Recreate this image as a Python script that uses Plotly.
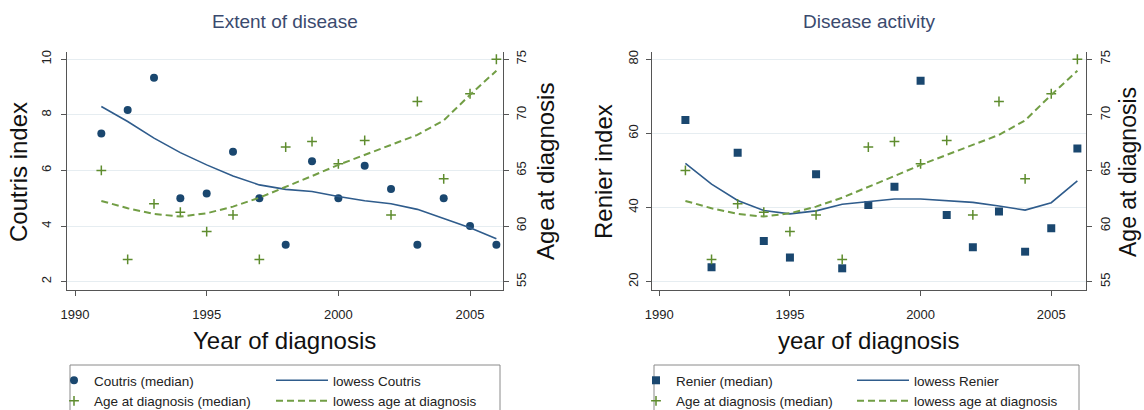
import plotly.graph_objects as go

W, H = 1144, 410

years = [1991, 1992, 1993, 1994, 1995, 1996, 1997, 1998, 1999, 2000, 2001, 2002, 2003, 2004, 2005, 2006]
coutris_median = [7.33, 8.17, 9.33, 5.0, 5.17, 6.67, 5.0, 3.33, 6.33, 5.0, 6.17, 5.33, 3.33, 5.0, 4.0, 3.33]
lowess_coutris = [8.30, 7.76, 7.16, 6.64, 6.20, 5.80, 5.48, 5.32, 5.24, 5.06, 4.91, 4.80, 4.60, 4.28, 3.94, 3.54]
age_median = [65, 57, 62, 61.25, 59.5, 61, 57, 67.1, 67.6, 65.6, 67.7, 61, 71.2, 64.25, 71.9, 75]
lowess_age = [62.26, 61.6, 61.09, 60.85, 61.15, 61.75, 62.55, 63.5, 64.5, 65.5, 66.4, 67.3, 68.2, 69.5, 71.8, 73.97]
renier_median = [63.6, 23.9, 54.8, 31.0, 26.5, 49.0, 23.6, 40.7, 45.6, 74.2, 38.0, 29.3, 38.9, 28.1, 34.4, 55.9]
lowess_renier = [51.9, 46.3, 41.9, 39.2, 38.3, 39.1, 40.9, 41.6, 42.3, 42.3, 41.8, 41.4, 40.4, 39.3, 41.3, 47.2]

x_ticks = [1990, 1995, 2000, 2005]
coutris_ticks = [2, 4, 6, 8, 10]
renier_ticks = [20, 40, 60, 80]
age_ticks = [55, 60, 65, 70, 75]

NAVY = "#1a476f"
LINE_BLUE = "#2f5c8c"
GREEN = "#5e8c2e"
DASH_GREEN = "#729e45"
TITLE_COL = "#3a4a6e"
AXIS_COL = "#555555"
GRID_COL = "#e6edf1"
FONT = "Liberation Sans, Arial, sans-serif"


def px_x(p):
    return p / W


def px_y(p):
    return 1 - p / H


fig = go.Figure()

plus_marker = dict(symbol="cross-thin", size=7, line=dict(color=GREEN, width=1.5))

# ---- left panel ----
fig.add_trace(go.Scatter(x=years, y=coutris_median, mode="markers", name="Coutris (median)",
                         marker=dict(symbol="circle", size=8, color=NAVY),
                         xaxis="x", yaxis="y", legend="legend"))
fig.add_trace(go.Scatter(x=years, y=age_median, mode="markers", name="Age at diagnosis (median)",
                         marker=plus_marker, xaxis="x", yaxis="y2", legend="legend"))
fig.add_trace(go.Scatter(x=years, y=lowess_coutris, mode="lines", name="lowess Coutris",
                         line=dict(color=LINE_BLUE, width=1.6),
                         xaxis="x", yaxis="y", legend="legend2"))
fig.add_trace(go.Scatter(x=years, y=lowess_age, mode="lines", name="lowess age at diagnosis",
                         line=dict(color=DASH_GREEN, width=2, dash="7px,4px"),
                         xaxis="x", yaxis="y2", legend="legend2"))

# ---- right panel ----
fig.add_trace(go.Scatter(x=years, y=renier_median, mode="markers", name="Renier (median)",
                         marker=dict(symbol="square", size=8, color=NAVY),
                         xaxis="x2", yaxis="y3", legend="legend3"))
fig.add_trace(go.Scatter(x=years, y=age_median, mode="markers", name="Age at diagnosis (median)",
                         marker=plus_marker, xaxis="x2", yaxis="y4", legend="legend3"))
fig.add_trace(go.Scatter(x=years, y=lowess_renier, mode="lines", name="lowess Renier",
                         line=dict(color=LINE_BLUE, width=1.6),
                         xaxis="x2", yaxis="y3", legend="legend4"))
fig.add_trace(go.Scatter(x=years, y=lowess_age, mode="lines", name="lowess age at diagnosis",
                         line=dict(color=DASH_GREEN, width=2, dash="7px,4px"),
                         xaxis="x2", yaxis="y4", legend="legend4"))

ydom = [px_y(290), px_y(51.7)]
tickfont = dict(family=FONT, size=13, color="#222222")

xcommon = dict(range=[1989.685, 2006.24], tickvals=x_ticks, showline=True, linecolor=AXIS_COL,
               linewidth=1, ticks="outside", ticklen=5, tickcolor=AXIS_COL, showgrid=False,
               zeroline=False, tickfont=tickfont, ticklabelstandoff=7, automargin=False)
ycommon = dict(showline=True, linecolor=AXIS_COL, linewidth=1, ticks="outside", ticklen=5,
               tickcolor=AXIS_COL, zeroline=False, tickfont=tickfont, tickangle=-90,
               automargin=False)

fig.update_layout(
    width=W, height=H, margin=dict(l=0, r=0, t=0, b=0, autoexpand=False),
    paper_bgcolor="white", plot_bgcolor="white",
    font=dict(family=FONT, color="#222222"),
    xaxis=dict(domain=[px_x(66.7), px_x(502.7)], anchor="y", **xcommon),
    yaxis=dict(domain=ydom, anchor="x", range=[1.70, 10.27], tickvals=coutris_ticks,
               showgrid=True, gridcolor=GRID_COL, gridwidth=1, ticklabelstandoff=5, **ycommon),
    yaxis2=dict(overlaying="y", side="right", anchor="x", range=[54.25, 75.68],
                tickvals=age_ticks, showgrid=False, ticklabelstandoff=2, **ycommon),
    xaxis2=dict(domain=[px_x(651.7), px_x(1086)], anchor="y3",
                **{**xcommon, "range": [1989.71, 2006.33]}),
    yaxis3=dict(domain=ydom, anchor="x2", range=[17.75, 82.05], tickvals=renier_ticks,
                showgrid=True, gridcolor=GRID_COL, gridwidth=1, ticklabelstandoff=3, **ycommon),
    yaxis4=dict(overlaying="y3", side="right", anchor="x2", range=[54.25, 75.68],
                tickvals=age_ticks, showgrid=False, ticklabelstandoff=2, **ycommon),
)

legend_common = dict(bgcolor="rgba(0,0,0,0)", borderwidth=0, orientation="v",
                     xanchor="left", yanchor="top", tracegroupgap=0,
                     font=dict(family=FONT, size=13.5, color="#222222"))
fig.update_layout(
    legend=dict(x=px_x(54), y=px_y(365), itemwidth=30, **legend_common),
    legend2=dict(x=px_x(271), y=px_y(365), itemwidth=52, **legend_common),
    legend3=dict(x=px_x(636), y=px_y(365), itemwidth=30, **legend_common),
    legend4=dict(x=px_x(852), y=px_y(365), itemwidth=52, **legend_common),
)

# legend frames
for x0, x1 in [(70, 500), (654, 1079)]:
    fig.add_shape(type="rect", xref="paper", yref="paper", x0=px_x(x0), x1=px_x(x1),
                  y0=px_y(365), y1=-0.05, line=dict(color="#8a8a8a", width=1),
                  fillcolor="rgba(0,0,0,0)", layer="below")

ann = []
# titles
ann.append(dict(text="Extent of disease", x=px_x(284.7), y=px_y(21), font=dict(size=19, color=TITLE_COL)))
ann.append(dict(text="Disease activity", x=px_x(868.9), y=px_y(21), font=dict(size=19, color=TITLE_COL)))
# axis titles
ann.append(dict(text="Coutris index", x=px_x(19), y=px_y(172), textangle=-90, font=dict(size=24, color="#111111")))
ann.append(dict(text="Age at diagnosis", x=px_x(546), y=px_y(172), textangle=-90, font=dict(size=24, color="#111111")))
ann.append(dict(text="Year of diagnosis", x=px_x(284.7), y=px_y(340), font=dict(size=24, color="#111111")))
ann.append(dict(text="Renier index", x=px_x(604), y=px_y(172), textangle=-90, font=dict(size=24, color="#111111")))
ann.append(dict(text="Age at diagnosis", x=px_x(1128), y=px_y(172), textangle=-90, font=dict(size=23, color="#111111")))
ann.append(dict(text="year of diagnosis", x=px_x(868.9), y=px_y(340), font=dict(size=24, color="#111111")))
for a in ann:
    a.update(xref="paper", yref="paper", xanchor="center", yanchor="middle", showarrow=False)
    a["font"]["family"] = FONT
fig.update_layout(annotations=ann)

fig.write_html("out.html", config={"displayModeBar": False},
               post_script="document.body.style.margin='0px';")
